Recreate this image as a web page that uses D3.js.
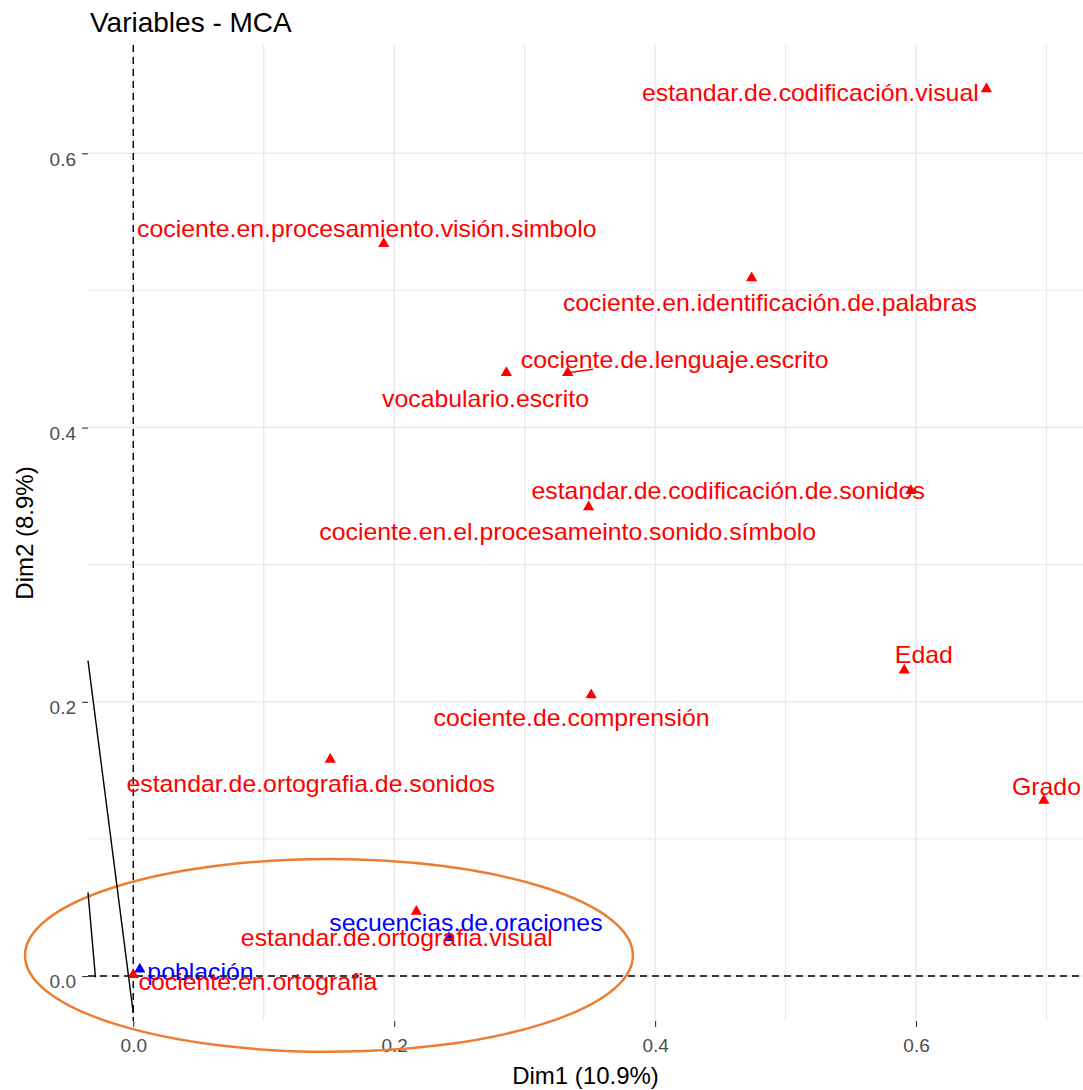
<!DOCTYPE html>
<html>
<head>
<meta charset="utf-8">
<script src="https://cdn.jsdelivr.net/npm/d3@7"></script>
<style>
  html, body { margin: 0; padding: 0; background: #fff; }
  svg { display: block; font-family: "Liberation Sans", Arial, Helvetica, sans-serif; }
</style>
</head>
<body>
<svg id="chart" width="1083" height="1090"></svg>
<script>
// MCA variable coordinates (Dim1, Dim2)
const variables = [
  "estandar.de.codificación.visual",
  "cociente.en.procesamiento.visión.simbolo",
  "cociente.en.identificación.de.palabras",
  "cociente.de.lenguaje.escrito",
  "vocabulario.escrito",
  "estandar.de.codificación.de.sonidos",
  "cociente.en.el.procesameinto.sonido.símbolo",
  "Edad",
  "Grado",
  "cociente.de.comprensión",
  "estandar.de.ortografia.de.sonidos",
  "secuencias.de.oraciones",
  "estandar.de.ortografia.visual",
  "población",
  "cociente.en.ortografia"
];
const dim1 = [0.654, 0.192, 0.474, 0.333, 0.286, 0.596, 0.349, 0.591, 0.698, 0.351, 0.151, 0.242, 0.217, 0.005, 0.000];
const dim2 = [0.647, 0.534, 0.509, 0.440, 0.440, 0.354, 0.342, 0.223, 0.128, 0.205, 0.158, 0.028, 0.047, 0.005, 0.001];
// variable group: 1 = active, 2 = supplementary
const group = [1, 1, 1, 1, 1, 1, 1, 1, 1, 1, 1, 2, 1, 2, 1];

// repelled label positions (data units)
const labelDim1 = [0.519, 0.179, 0.488, 0.415, 0.270, 0.456, 0.333, 0.606, 0.700, 0.336, 0.136, 0.255, 0.202, 0.0515, 0.0956];
const labelDim2 = [0.644, 0.545, 0.491, 0.449, 0.421, 0.354, 0.324, 0.234, 0.138, 0.188, 0.140, 0.039, 0.028, 0.003, -0.0044];

// leader segment for a displaced label: [index, endDim1, endDim2]
const leaders = [[3, 0.3525, 0.4425]];

// axis ticks
const majorTicks = [0.0, 0.2, 0.4, 0.6];
const minorTicks = [0.1, 0.3, 0.5, 0.7];
const tickLabels = ["0.0", "0.2", "0.4", "0.6"];

// highlighted region (ellipse in data units): cx, cy, rx, ry
const ellipseSpec = [0.150, 0.015, 0.233, 0.0703];
// freehand strokes (data units): [x1, y1, x2, y2]
const strokes = [
  [-0.0347, 0.230, 0.000, -0.027],
  [-0.0347, 0.061, -0.029, -0.001]
];

const svg = d3.select("#chart");
const panel = { left: 88, right: 1083, top: 45, bottom: 1021 };

const x = d3.scaleLinear().domain([-0.0347, 0.728]).range([panel.left, panel.right]);
const y = d3.scaleLinear().domain([-0.0328, 0.679]).range([panel.bottom, panel.top]);

const inX = v => v >= x.domain()[0] && v <= x.domain()[1];
const inY = v => v >= y.domain()[0] && v <= y.domain()[1];

// grid
const grid = svg.append("g");
grid.selectAll(".vminor").data(minorTicks.filter(inX)).join("line")
  .attr("x1", d => x(d)).attr("x2", d => x(d))
  .attr("y1", panel.top).attr("y2", panel.bottom)
  .attr("stroke", "#EBEBEB").attr("stroke-width", 1.3);
grid.selectAll(".hminor").data(minorTicks.filter(inY)).join("line")
  .attr("y1", d => y(d)).attr("y2", d => y(d))
  .attr("x1", panel.left).attr("x2", panel.right)
  .attr("stroke", "#EBEBEB").attr("stroke-width", 1.3);
grid.selectAll(".vmajor").data(majorTicks.filter(inX)).join("line")
  .attr("x1", d => x(d)).attr("x2", d => x(d))
  .attr("y1", panel.top).attr("y2", panel.bottom)
  .attr("stroke", "#EBEBEB").attr("stroke-width", 1.6);
grid.selectAll(".hmajor").data(majorTicks.filter(inY)).join("line")
  .attr("y1", d => y(d)).attr("y2", d => y(d))
  .attr("x1", panel.left).attr("x2", panel.right)
  .attr("stroke", "#EBEBEB").attr("stroke-width", 1.6);

// axes
const xAxis = d3.axisBottom(x).tickValues(majorTicks).tickFormat((d, i) => tickLabels[i])
  .tickSize(6).tickPadding(12);
const yAxis = d3.axisLeft(y).tickValues(majorTicks).tickFormat((d, i) => tickLabels[i])
  .tickSize(6).tickPadding(6);

const gx = svg.append("g").attr("transform", `translate(0,${panel.bottom})`).call(xAxis);
const gy = svg.append("g").attr("transform", `translate(${panel.left},0)`).call(yAxis);
[gx, gy].forEach(g => {
  g.select(".domain").remove();
  g.selectAll(".tick line").attr("stroke", "#333333").attr("stroke-width", 1.1);
  g.selectAll(".tick text").attr("fill", "#4D4D4D").attr("font-size", 19)
    .attr("font-family", "Liberation Sans, Arial, sans-serif");
});
gy.selectAll(".tick text").attr("dy", "0.62em");

// reference lines at the origin
svg.append("line")
  .attr("x1", x(0)).attr("x2", x(0)).attr("y1", panel.top).attr("y2", panel.bottom)
  .attr("stroke", "#000").attr("stroke-width", 1.4).attr("stroke-dasharray", "7,5");
svg.append("line")
  .attr("y1", y(0)).attr("y2", y(0)).attr("x1", panel.left).attr("x2", panel.right)
  .attr("stroke", "#000").attr("stroke-width", 1.4).attr("stroke-dasharray", "7,5");

const colorOf = i => group[i] === 2 ? "#0000FF" : "#FF0000";

// leader segments
svg.selectAll(".leader").data(leaders).join("line")
  .attr("x1", d => x(dim1[d[0]])).attr("y1", d => y(dim2[d[0]]))
  .attr("x2", d => x(d[1])).attr("y2", d => y(d[2]))
  .attr("stroke", d => colorOf(d[0])).attr("stroke-width", 1.5);

// points
const tri = d3.symbol().type(d3.symbolTriangle).size(55);
svg.selectAll(".pt").data(variables).join("path")
  .attr("d", tri)
  .attr("transform", (d, i) => `translate(${x(dim1[i])},${y(dim2[i])})`)
  .attr("fill", (d, i) => colorOf(i));

// labels (slightly widened glyphs)
svg.selectAll(".lbl").data(variables).join("text")
  .attr("transform", (d, i) => `translate(${x(labelDim1[i])},${y(labelDim2[i])}) scale(1.08,1)`)
  .attr("dy", "0.35em")
  .attr("text-anchor", "middle")
  .attr("font-size", 23)
  .attr("fill", (d, i) => colorOf(i))
  .text(d => d);

// highlighted region
svg.append("ellipse")
  .attr("cx", x(ellipseSpec[0])).attr("cy", y(ellipseSpec[1]))
  .attr("rx", x(ellipseSpec[2]) - x(0)).attr("ry", y(0) - y(ellipseSpec[3]))
  .attr("fill", "none").attr("stroke", "#ED7D31").attr("stroke-width", 2.5);

svg.selectAll(".stroke").data(strokes).join("line")
  .attr("x1", d => x(d[0])).attr("y1", d => y(d[1]))
  .attr("x2", d => x(d[2])).attr("y2", d => y(d[3]))
  .attr("stroke", "#000").attr("stroke-width", 1.4);

// titles
svg.append("text").attr("x", 90).attr("y", 32)
  .attr("font-size", 28).attr("fill", "#000").text("Variables - MCA");
svg.append("text").attr("x", (panel.left + panel.right) / 2).attr("y", 1084)
  .attr("text-anchor", "middle").attr("font-size", 24).attr("fill", "#000")
  .text("Dim1 (10.9%)");
svg.append("text")
  .attr("transform", `translate(33,${(panel.top + panel.bottom) / 2}) rotate(-90)`)
  .attr("text-anchor", "middle").attr("font-size", 24).attr("fill", "#000")
  .text("Dim2 (8.9%)");
</script>
</body>
</html>
